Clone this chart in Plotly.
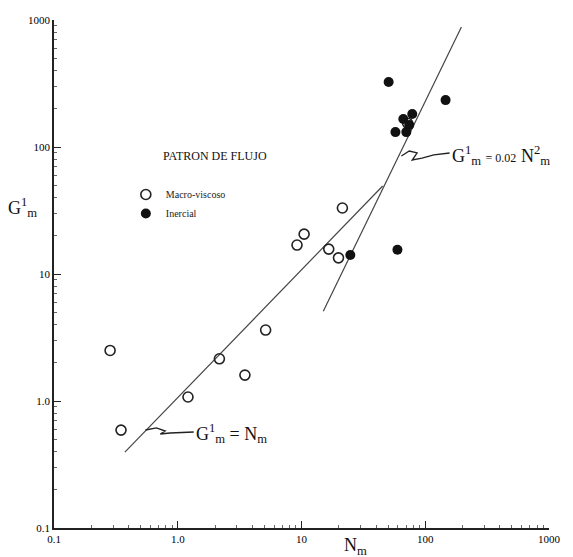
import plotly.graph_objects as go

# ---- data ----
macro_n = [0.284, 0.348, 1.21, 2.17, 3.49, 5.13, 9.2, 10.5, 16.6, 19.9, 21.4, 72.0]
macro_g = [2.5, 0.59, 1.075, 2.15, 1.60, 3.62, 16.9, 20.6, 15.7, 13.4, 33.1, 154.0]
inerc_n = [24.8, 50.6, 146.0, 59.6, 57.4, 70.3, 66.5, 78.5, 74.3]
inerc_g = [14.1, 325.0, 234.0, 15.5, 131.0, 131.0, 166.0, 182.0, 149.0]
line1_n = [0.374, 45.3]
line1_g = [0.396, 49.3]
line2_n = [15.0, 196.0]
line2_g = [5.1, 880.0]
tick_vals = [0.1, 1, 10, 100, 1000]
tick_text = ["0.1", "1.0", "10", "100", "1000"]

W, H = 573, 557
L, R, T, B = 54, 16, 20, 29
PW, PH = W - L - R, H - T - B
SERIF = "Liberation Serif"
INK = "#222222"


def px(x):
    return (x - L) / PW


def py(y):
    return (H - B - y) / PH


minor_vals = [m * 10 ** e for e in range(-1, 3) for m in range(2, 10)]

fig = go.Figure()
fig.add_trace(go.Scatter(x=line1_n, y=line1_g, mode="lines",
                         line=dict(color="#444444", width=1.2), showlegend=False))
fig.add_trace(go.Scatter(x=line2_n, y=line2_g, mode="lines",
                         line=dict(color="#444444", width=1.2), showlegend=False))
fig.add_trace(go.Scatter(x=macro_n, y=macro_g, mode="markers", name="Macro-viscoso",
                         marker=dict(symbol="circle-open", size=10, color=INK,
                                     line=dict(width=1.6, color=INK))))
fig.add_trace(go.Scatter(x=inerc_n, y=inerc_g, mode="markers", name="Inercial",
                         marker=dict(symbol="circle", size=10, color="#111111")))

axis_common = dict(
    type="log", range=[-1, 3], tickmode="array", tickvals=tick_vals, ticktext=tick_text,
    ticks="inside", ticklen=7, tickwidth=1.2, tickcolor=INK,
    showline=True, linecolor=INK, linewidth=1.5, showgrid=False, zeroline=False,
    tickfont=dict(family=SERIF, size=11, color="#000000"),
    minor=dict(ticks="inside", ticklen=3, tickcolor="#666666", tickmode="array",
               tickvals=minor_vals, showgrid=False),
)

fig.update_layout(
    width=W, height=H,
    margin=dict(l=L, r=R, t=T, b=B),
    paper_bgcolor="white", plot_bgcolor="white",
    xaxis=axis_common,
    yaxis=axis_common,
    font=dict(family=SERIF, color=INK),
    legend=dict(x=px(127), y=py(180), xanchor="left", yanchor="top",
                font=dict(family=SERIF, size=10, color=INK),
                bgcolor="rgba(0,0,0,0)", itemwidth=30, tracegroupgap=0),
)

annots = [
    dict(text="PATRON DE FLUJO", x=px(218), y=py(156), size=12, xanchor="center"),
    dict(text="G<sup>1</sup><sub>m</sub> = N<sub>m</sub>", x=px(196), y=py(433), size=18,
         xanchor="left"),
    dict(text="G<sup>1</sup><sub>m</sub> <span style='font-size:12px'>= 0.02</span> N<sup>2</sup><sub>m</sub>",
         x=px(456), y=py(156), size=18, xanchor="left"),
    dict(text="G<sup>1</sup><sub>m</sub>", x=px(22), y=py(207), size=18, xanchor="center"),
    dict(text="N<sub>m</sub>", x=px(360), y=py(546), size=18, xanchor="center"),
]
for a in annots:
    fig.add_annotation(text=a["text"], x=a["x"], y=a["y"], xref="paper", yref="paper",
                       xanchor=a["xanchor"], yanchor="middle", showarrow=False,
                       font=dict(family=SERIF, size=a["size"], color="#111111"))


def path(points):
    s = "M " + " L ".join(f"{px(x):.4f},{py(y):.4f}" for x, y in points)
    return s


conn1 = [(147, 430), (158, 428), (167, 431), (162, 434), (172, 433), (196, 432)]
conn2 = [(407, 156), (415, 151), (423, 153), (418, 160), (428, 158), (440, 155), (456, 153)]
for c in (conn1, conn2):
    fig.add_shape(type="path", path=path(c), xref="paper", yref="paper",
                  line=dict(color="#222222", width=1.3))

fig.write_html("out.html")
